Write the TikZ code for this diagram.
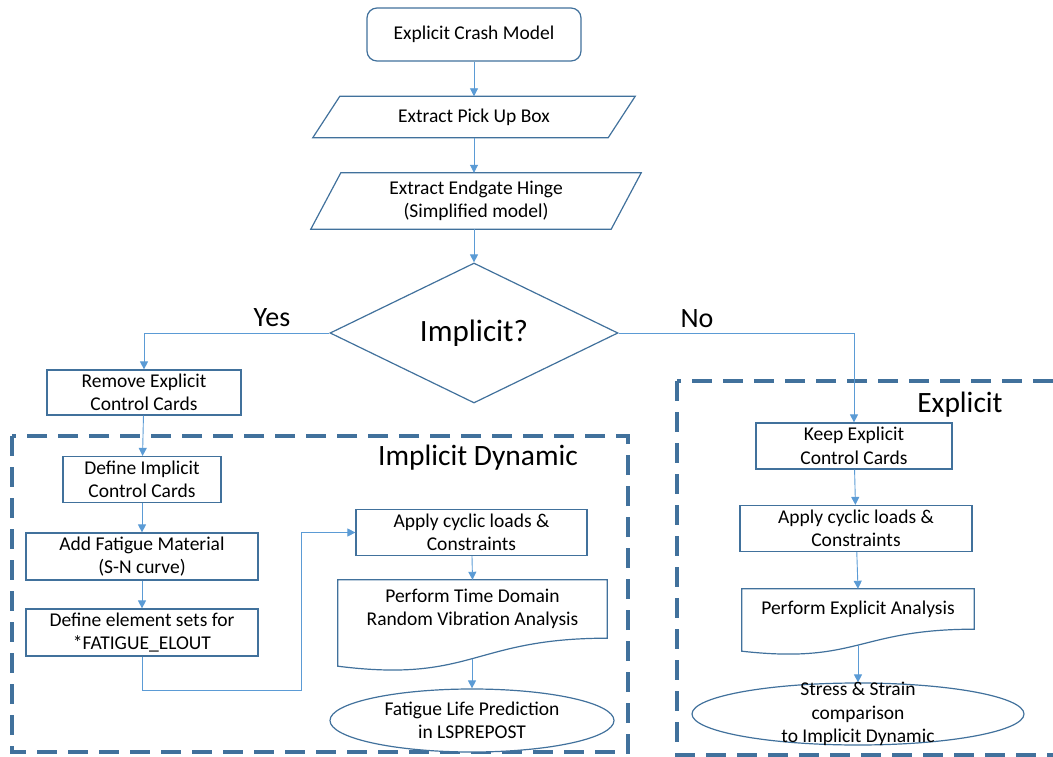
\documentclass[tikz,border=0pt]{standalone}
\usepackage{fontspec}
\setmainfont{Carlito}
\usetikzlibrary{shapes.geometric,arrows.meta}
\definecolor{edgeblue}{HTML}{41719C}
\definecolor{wireblue}{HTML}{5B9BD5}
\definecolor{zoneblue}{HTML}{41719C}
% flat top, wavy bottom; leaves a coordinate "<name> wave" on the wave
\newcommand{\docwave}[3]{\draw[edgeblue,line width=1.2pt] (#1.north west) -- (#1.north east) -- (#1.south east) .. controls (#1.south) and ([yshift=-#3pt]#1.south) .. ([yshift=-#2pt]#1.south west) coordinate[pos=.5] (#1 wave) -- cycle;}
% slanted input box round a plain node
\newcommand{\slantbox}[2]{\draw[edgeblue,line width=1.2pt] ([xshift=#2pt]#1.north west) -- (#1.north east) -- ([xshift=-#2pt]#1.south east) -- (#1.south west) -- cycle;}

\begin{document}
\begin{tikzpicture}[x=1pt,y=-1pt,font=\fontsize{19.5}{23.5}\selectfont,
  proc/.style={draw=edgeblue,line width=1.2pt,fill=white,align=center,inner sep=0pt},
  io/.style={align=center,inner sep=0pt},
  doc/.style={align=center,inner sep=0pt},
  term/.style={proc,ellipse},
  tag/.style={font=\fontsize{28}{34}\selectfont,inner sep=0pt},
  title/.style={font=\fontsize{29.5}{35}\selectfont,inner sep=0pt},
  wire/.style={draw=wireblue,line width=.9pt,-{Triangle[length=8pt,width=8pt]}},
  zone/.style={draw=zoneblue,line width=3.2pt,dash pattern=on 20pt off 11pt}]
  \useasboundingbox (0,0) rectangle (1053,757);
  \clip (0,0) rectangle (1053,757);

  % dashed regions
  \draw[zone] (12,436) rectangle (628,752);
  \draw[zone] (677,381) rectangle (1080,755);

  % main line
  \node[proc,rounded corners=10pt,minimum width=214,minimum height=53] (crash) at (474,34.5) {Explicit Crash Model};
  \node[io,minimum width=322,minimum height=41] (pickup) at (474,117) {Extract Pick Up Box};
  \node[io,minimum width=330,minimum height=56] (hinge) at (476,201) {Extract Endgate Hinge\\(Simplified model)};
  \slantbox{pickup}{27}
  \slantbox{hinge}{30}
  \node[proc,diamond,aspect=2,minimum width=288,minimum height=140,font=\fontsize{31}{36}\selectfont] (implicit) at (474,333) {Implicit?};
  \node[tag] (yes) at (272,318) {Yes};
  \node[tag] (no) at (697,319) {No};
  \node[title] (impzone) at (478,458) {Implicit Dynamic};
  \node[title] (expzone) at (960,405) {Explicit};

  % implicit branch
  \node[proc,minimum width=194,minimum height=45] (remove) at (144,392.5) {Remove Explicit\\Control Cards};
  \node[proc,minimum width=158,minimum height=46] (defimp) at (142,479.5) {Define Implicit\\Control Cards};
  \node[proc,minimum width=232,minimum height=47] (fatmat) at (142,556.5) {Add Fatigue Material\\(S-N curve)};
  \node[proc,minimum width=232,minimum height=47] (elset) at (142,632.5) {Define element sets for\\*FATIGUE\_ELOUT};
  \node[proc,minimum width=231,minimum height=46] (applyI) at (471.5,532.5) {Apply cyclic loads \&\\Constraints};
  \node[doc,minimum width=269,minimum height=58] (perfI) at (472.5,609) {Perform Time Domain\\Random Vibration Analysis};
  \node[term,minimum width=284,minimum height=63,inner sep=0pt] (lifeI) at (472,720.5) {Fatigue Life Prediction\\in LSPREPOST};
  \docwave{perfI}{28}{45}

  % explicit branch
  \node[proc,minimum width=196,minimum height=46] (keep) at (854,446) {Keep Explicit\\Control Cards};
  \node[proc,minimum width=232,minimum height=46] (applyE) at (856,528.5) {Apply cyclic loads \&\\Constraints};
  \node[doc,minimum width=232,minimum height=40] (perfE) at (858,609) {Perform Explicit Analysis};
  \node[term,minimum width=332,minimum height=62,inner xsep=0pt,inner ysep=-20pt] (stress) at (858,714) {Stress \& Strain\\comparison\\to Implicit Dynamic};
  \docwave{perfE}{22}{35}

  % connectors
  \draw[wire] (crash) -- (pickup);
  \draw[wire] (pickup.south) -- (pickup.south |- hinge.north);
  \draw[wire] (pickup.south |- hinge.south) -- (implicit);
  \draw[wire] (implicit.west) -| (remove.north);
  \draw[wire] (implicit.east) -| (keep.north);
  \draw[wire] (remove) -- (defimp);
  \draw[wire] (defimp) -- (fatmat);
  \draw[wire] (fatmat) -- (elset);
  \coordinate (detour) at (301,690);
  \draw[wire] (elset.south) |- (detour) |- (applyI.west);
  \draw[wire] (applyI) -- (perfI.north);
  \draw[wire] (lifeI.north |- perfI wave) -- (lifeI.north);
  \draw[wire] (keep) -- (applyE);
  \draw[wire] (applyE) -- (perfE.north);
  \draw[wire] (stress.north |- perfE wave) -- (stress.north);
\end{tikzpicture}
\end{document}
